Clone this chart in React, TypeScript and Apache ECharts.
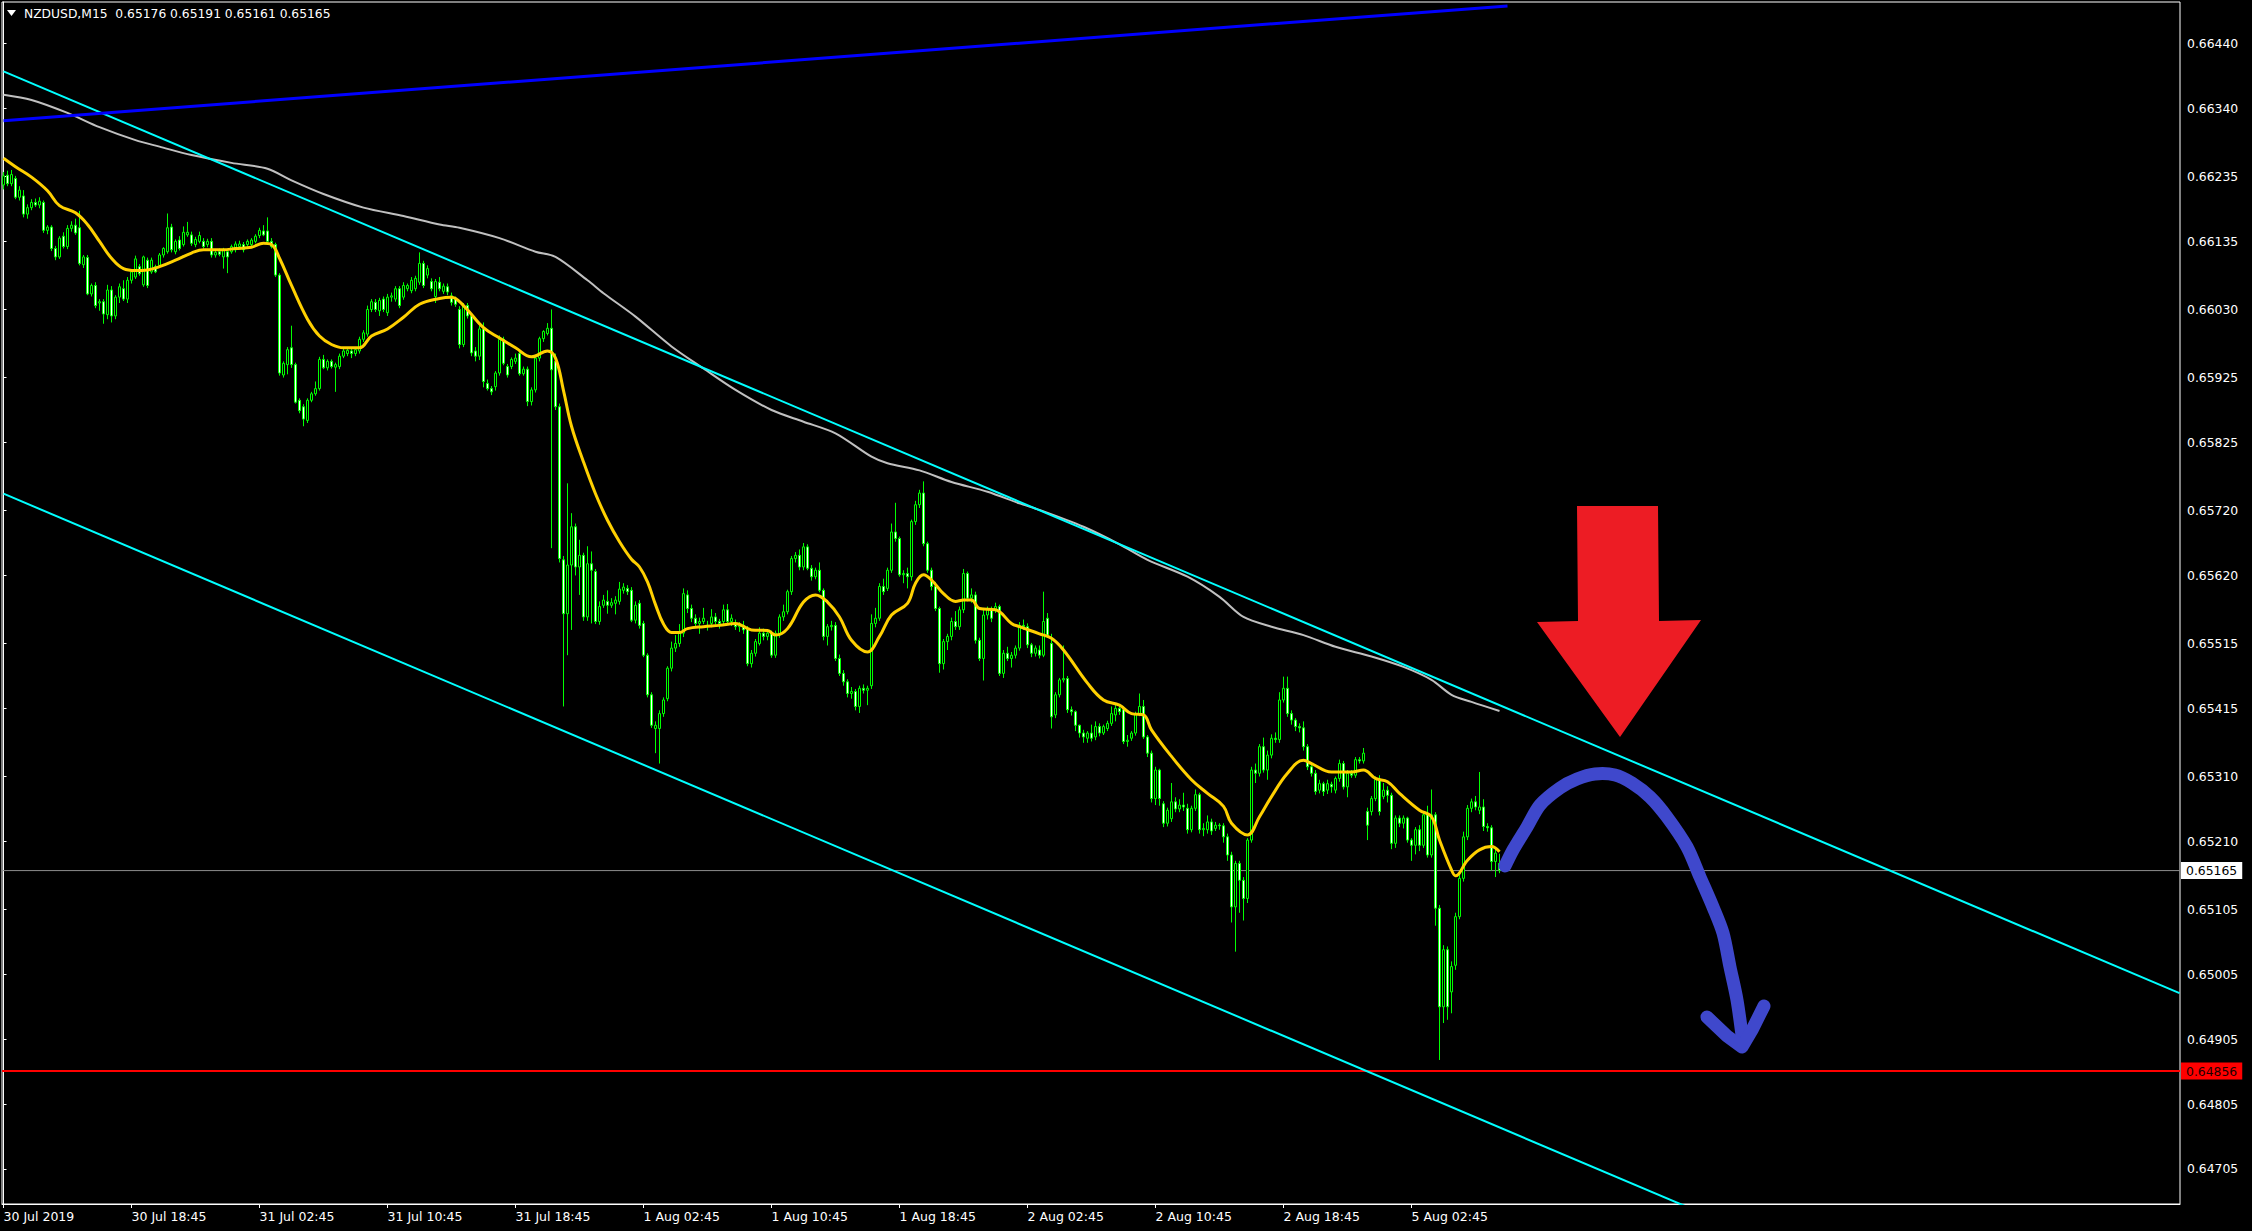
import React, { useEffect, useRef } from 'react';
import * as echarts from 'echarts';

// Prices are stored in points above 0.64000 (1 point = 0.00001)
const BASE = 0.64;
const POINT = 0.00001;

const opens = [
  2222,2237,2224,2232,2203,2205,2177,2187,2195,2191,
  2195,2152,2157,2124,2111,2143,2127,2155,2160,2156,
  2099,2110,2054,2067,2040,2042,2022,2060,2020,2049,
  2062,2046,2075,2080,2096,2068,2106,2088,2096,2098,
  2114,2119,2157,2119,2137,2130,2145,2145,2130,2135,
  2135,2130,2135,2114,2119,2111,2119,2119,2122,2127,
  2130,2130,2130,2135,2144,2151,2151,2135,2130,2083,
  1929,1945,1971,1945,1890,1880,1859,1890,1900,1908,
  1953,1940,1950,1941,1942,1958,1962,1966,1962,1966,
  1984,1992,2030,2041,2028,2046,2025,2049,2046,2062,
  2049,2062,2059,2062,2072,2101,2083,2073,2050,2072,
  2058,2065,2051,2046,2030,1976,2036,2020,1966,1958,
  2000,1916,1908,1911,1932,1984,1942,1942,1950,1962,
  1931,1938,1888,1906,1955,1985,1993,2001,1950,1880,
  1644,1561,1636,1695,1633,1651,1556,1638,1626,1549,
  1574,1580,1574,1577,1580,1597,1600,1597,1551,1577,
  1546,1497,1436,1384,1384,1407,1430,1477,1508,1515,
  1531,1590,1569,1554,1546,1549,1543,1546,1556,1549,
  1549,1567,1549,1546,1541,1543,1538,1484,1500,1515,
  1531,1526,1531,1497,1528,1556,1564,1595,1646,1651,
  1633,1664,1631,1618,1628,1597,1526,1541,1543,1492,
  1469,1456,1438,1441,1418,1446,1443,1450,1546,1554,
  1603,1600,1628,1687,1677,1621,1623,1618,1703,1729,
  1747,1669,1628,1603,1569,1484,1518,1526,1549,1541,
  1567,1623,1585,1590,1520,1492,1559,1567,1567,1572,
  1469,1500,1492,1497,1508,1543,1541,1513,1500,1505,
  1497,1554,1515,1405,1436,1459,1461,1413,1410,1389,
  1377,1369,1377,1371,1387,1377,1384,1392,1405,1415,
  1413,1364,1369,1377,1407,1418,1371,1346,1276,1320,
  1268,1238,1245,1271,1260,1266,1261,1228,1261,1282,
  1228,1228,1240,1230,1235,1234,1217,1189,1109,1176,
  1150,1122,1212,1320,1315,1356,1320,1343,1369,1367,
  1428,1446,1407,1397,1387,1385,1356,1325,1315,1289,
  1299,1289,1298,1289,1307,1330,1294,1315,1312,1336,
  1334,1256,1256,1276,1305,1279,1289,1281,1207,1246,
  1238,1246,1212,1204,1228,1204,1251,1189,1251,1107,
  955,1043,978,1019,1094,1153,1217,1261,1271,1258,
  1263,1233,1231,1179,1176,
];

const highs = [
  2242,2244,2245,2236,2220,2214,2192,2200,2201,2203,
  2198,2160,2160,2128,2143,2149,2160,2166,2170,2182,
  2114,2114,2070,2072,2046,2046,2068,2066,2052,2070,
  2075,2080,2092,2113,2100,2113,2110,2110,2099,2117,
  2126,2178,2162,2138,2143,2158,2165,2150,2142,2150,
  2140,2139,2140,2122,2124,2125,2122,2130,2135,2136,
  2134,2138,2140,2146,2156,2160,2172,2140,2133,2086,
  1950,1972,2005,1948,1893,1884,1893,1903,1919,1957,
  1960,1953,1953,1948,1962,1970,1970,1970,1972,1988,
  1998,2036,2046,2046,2048,2050,2054,2056,2066,2066,
  2072,2070,2080,2082,2118,2105,2098,2078,2077,2080,
  2070,2070,2056,2050,2035,2040,2040,2024,1972,2005,
  2010,1922,1912,1935,1990,1988,1946,1956,1962,1966,
  1942,1942,1910,1958,1988,1998,2009,2030,1962,1885,
  1650,1762,1716,1700,1675,1655,1665,1657,1630,1580,
  1590,1597,1585,1588,1610,1608,1605,1602,1580,1582,
  1550,1500,1440,1395,1412,1432,1480,1518,1528,1545,
  1600,1597,1575,1560,1555,1570,1550,1568,1562,1553,
  1575,1576,1560,1552,1548,1550,1542,1505,1522,1540,
  1538,1535,1535,1535,1560,1575,1598,1650,1656,1660,
  1670,1668,1636,1632,1640,1600,1545,1550,1548,1498,
  1474,1460,1448,1445,1450,1452,1450,1560,1570,1608,
  1615,1632,1700,1732,1680,1628,1632,1706,1735,1752,
  1765,1672,1632,1610,1572,1522,1530,1555,1565,1572,
  1630,1626,1600,1595,1524,1570,1572,1572,1578,1575,
  1505,1510,1502,1512,1548,1552,1546,1516,1512,1512,
  1595,1562,1530,1440,1462,1512,1465,1418,1412,1390,
  1382,1380,1390,1395,1392,1390,1396,1418,1422,1420,
  1418,1374,1380,1410,1438,1428,1374,1350,1325,1322,
  1272,1262,1300,1278,1275,1285,1268,1265,1290,1285,
  1238,1250,1245,1240,1238,1238,1222,1194,1180,1180,
  1155,1215,1325,1330,1360,1370,1350,1375,1378,1440,
  1464,1464,1412,1400,1392,1395,1360,1330,1320,1305,
  1302,1305,1302,1310,1336,1334,1320,1320,1340,1340,
  1354,1262,1280,1310,1312,1300,1295,1285,1250,1250,
  1250,1248,1215,1232,1235,1256,1265,1290,1255,1112,
  1050,1048,1025,1100,1160,1225,1266,1276,1280,1317,
  1275,1238,1235,1200,1191,
];

const lows = [
  2215,2220,2220,2200,2198,2172,2170,2183,2188,2186,
  2148,2146,2120,2106,2108,2124,2123,2150,2145,2098,
  2094,2052,2050,2032,2028,2008,2015,2010,2015,2040,
  2043,2040,2070,2077,2082,2065,2063,2085,2086,2094,
  2110,2116,2118,2115,2121,2127,2142,2128,2126,2132,
  2124,2126,2110,2110,2112,2093,2086,2116,2118,2124,
  2118,2127,2127,2132,2140,2143,2132,2124,2080,1928,
  1925,1930,1940,1885,1870,1850,1855,1887,1897,1905,
  1938,1936,1939,1903,1938,1955,1958,1955,1958,1962,
  1980,1988,2026,2026,2020,2026,2020,2042,2042,2032,
  2045,2058,2055,2058,2068,2063,2078,2058,2040,2058,
  2054,2052,2036,2034,1970,1972,2016,1958,1950,1952,
  1910,1905,1898,1905,1928,1944,1925,1938,1946,1928,
  1928,1881,1882,1902,1950,1980,1990,1662,1875,1640,
  1418,1497,1536,1620,1590,1550,1550,1546,1545,1544,
  1570,1561,1570,1560,1575,1592,1590,1548,1546,1538,
  1494,1432,1385,1346,1330,1402,1426,1472,1502,1510,
  1525,1562,1548,1540,1530,1545,1535,1540,1544,1538,
  1545,1544,1542,1536,1533,1530,1480,1478,1495,1512,
  1520,1520,1493,1493,1524,1550,1560,1590,1640,1628,
  1628,1628,1612,1614,1594,1520,1512,1535,1488,1465,
  1450,1432,1430,1412,1408,1438,1420,1445,1540,1550,
  1590,1596,1624,1672,1618,1608,1600,1612,1698,1724,
  1665,1624,1597,1565,1470,1475,1505,1520,1536,1536,
  1562,1580,1578,1515,1488,1458,1552,1548,1562,1465,
  1462,1488,1478,1492,1504,1536,1508,1494,1495,1492,
  1494,1524,1384,1400,1432,1455,1408,1404,1380,1370,
  1362,1362,1364,1366,1372,1374,1380,1388,1395,1405,
  1360,1356,1365,1373,1403,1368,1340,1270,1266,1265,
  1232,1233,1240,1255,1255,1257,1222,1224,1257,1222,
  1218,1222,1220,1226,1228,1208,1180,1085,1040,1100,
  1088,1115,1208,1300,1310,1316,1305,1338,1362,1362,
  1424,1402,1390,1380,1378,1350,1320,1310,1282,1284,
  1280,1283,1285,1284,1302,1290,1278,1308,1308,1330,
  1330,1212,1250,1272,1250,1275,1270,1198,1200,1232,
  1230,1208,1180,1190,1195,1200,1185,1185,1080,873,
  930,935,945,1012,1090,1148,1212,1255,1258,1252,
  1226,1225,1165,1155,1161,
];

const closes = [
  2236,2224,2238,2203,2214,2177,2187,2195,2191,2197,
  2152,2157,2124,2111,2140,2127,2155,2160,2148,2101,
  2111,2054,2067,2036,2042,2023,2060,2020,2049,2065,
  2046,2075,2088,2108,2085,2111,2067,2106,2088,2114,
  2124,2156,2122,2135,2124,2149,2149,2132,2138,2144,
  2127,2135,2114,2118,2115,2122,2111,2127,2131,2131,
  2122,2135,2137,2143,2152,2145,2135,2127,2083,1932,
  1947,1968,1945,1887,1874,1861,1890,1900,1908,1953,
  1940,1950,1942,1945,1958,1966,1967,1962,1968,1984,
  1994,2030,2042,2030,2044,2030,2049,2051,2062,2036,
  2067,2067,2075,2078,2101,2067,2093,2062,2073,2062,
  2066,2057,2041,2038,1976,2036,2020,1963,1958,2000,
  1919,1908,1903,1932,1984,1947,1929,1953,1955,1931,
  1938,1888,1906,1955,1985,1996,2001,1937,1880,1646,
  1561,1636,1695,1633,1651,1556,1638,1628,1549,1572,
  1582,1574,1578,1582,1599,1602,1595,1551,1574,1543,
  1497,1436,1389,1389,1407,1428,1477,1508,1515,1531,
  1592,1569,1554,1546,1549,1554,1541,1556,1549,1546,
  1567,1549,1554,1541,1543,1536,1484,1500,1518,1531,
  1526,1531,1497,1531,1556,1564,1595,1646,1651,1633,
  1664,1631,1618,1628,1597,1526,1541,1543,1492,1469,
  1456,1438,1441,1418,1446,1443,1446,1546,1554,1603,
  1595,1628,1687,1677,1621,1623,1618,1703,1729,1747,
  1669,1628,1603,1569,1484,1518,1526,1549,1541,1567,
  1623,1585,1590,1520,1492,1559,1567,1554,1572,1469,
  1500,1492,1497,1508,1543,1541,1513,1500,1508,1497,
  1549,1528,1402,1436,1459,1461,1413,1410,1389,1377,
  1371,1377,1369,1387,1377,1387,1392,1407,1415,1410,
  1364,1366,1377,1407,1418,1371,1346,1276,1320,1276,
  1238,1258,1271,1260,1266,1263,1228,1261,1282,1228,
  1230,1240,1226,1235,1234,1217,1189,1109,1176,1150,
  1122,1212,1320,1315,1356,1320,1343,1369,1367,1428,
  1446,1407,1397,1387,1385,1356,1325,1315,1287,1299,
  1287,1299,1294,1307,1330,1294,1315,1312,1336,1334,
  1346,1235,1276,1305,1256,1289,1281,1207,1246,1238,
  1246,1212,1204,1228,1204,1251,1189,1251,1107,955,
  1043,955,1017,1094,1153,1217,1261,1271,1263,1263,
  1233,1231,1179,1192,1165,
];

// Moving averages: [bar index, points]
const yellowMA = [
  [0,2263],[3,2250],[7,2234],[11,2213],[14,2190],[18,2179],[21,2161],[24,2135],[27,2109],[30,2093],
  [33,2090],[36,2091],[39,2096],[43,2106],[47,2117],[50,2122],[55,2122],[58,2124],[62,2126],[65,2132],
  [67,2130],[69,2109],[72,2067],[76,2015],[79,1989],[82,1976],[85,1971],[89,1971],[92,1989],[96,2000],
  [100,2018],[104,2038],[109,2047],[112,2049],[115,2036],[120,2002],[124,1986],[128,1971],[132,1957],[136,1966],
  [138,1955],[140,1905],[142,1850],[145,1795],[148,1746],[151,1705],[154,1672],[157,1645],[159,1633],[161,1610],
  [163,1575],[165,1545],[167,1532],[169,1532],[171,1538],[175,1541],[179,1543],[183,1546],[187,1536],[191,1535],
  [193,1528],[196,1538],[200,1579],[203,1590],[206,1579],[209,1556],[212,1520],[216,1502],[219,1526],[222,1559],
  [226,1577],[228,1608],[230,1621],[232,1613],[235,1592],[238,1580],[240,1582],[242,1582],[244,1569],[248,1567],
  [252,1546],[254,1541],[259,1530],[262,1523],[265,1505],[271,1454],[275,1428],[279,1420],[282,1407],[285,1405],
  [287,1382],[292,1341],[297,1305],[301,1284],[305,1264],[307,1238],[311,1220],[314,1248],[317,1279],[321,1315],
  [325,1335],[327,1330],[332,1317],[337,1317],[340,1320],[343,1307],[346,1302],[349,1284],[354,1258],[357,1248],
  [359,1212],[362,1166],[363,1157],[366,1181],[369,1197],[372,1202],[374,1194],
];

const grayMA = [
  [0,2361],[7,2353],[16,2333],[24,2311],[33,2291],[39,2281],[47,2268],[57,2256],[66,2247],[72,2229],
  [80,2208],[90,2187],[100,2174],[109,2161],[114,2156],[124,2140],[133,2119],[138,2111],[146,2075],[150,2055],
  [158,2019],[167,1973],[175,1939],[183,1906],[192,1875],[200,1857],[208,1839],[217,1803],[221,1793],[229,1782],
  [237,1764],[246,1749],[254,1731],[259,1721],[270,1695],[279,1668],[286,1644],[296,1618],[304,1587],[310,1556],
  [317,1541],[325,1528],[333,1510],[342,1495],[350,1479],[357,1459],[362,1436],[367,1425],[374,1411],
];

// Trend lines: [bar index, price] anchors
const blueTrend = [[0, 0.66321], [376, 0.66498]];
const channelUpper = [[0, 0.66397], [544, 0.64976]];
const channelLower = [[0, 0.65746], [544, 0.64325]];

const bidPrice = 0.65165;
const supportLevel = 0.64856;

const timeLabels = [
  '30 Jul 2019', '30 Jul 18:45', '31 Jul 02:45', '31 Jul 10:45', '31 Jul 18:45', '1 Aug 02:45',
  '1 Aug 10:45', '1 Aug 18:45', '2 Aug 02:45', '2 Aug 10:45', '2 Aug 18:45', '5 Aug 02:45',
];
const timeLabelBars = [0, 32, 64, 96, 128, 160, 192, 224, 256, 288, 320, 352];

const priceTicks = [
  '0.66440', '0.66340', '0.66235', '0.66135', '0.66030', '0.65925', '0.65825', '0.65720', '0.65620',
  '0.65515', '0.65415', '0.65310', '0.65210', '0.65105', '0.65005', '0.64905', '0.64805', '0.64705',
];

const titleText = 'NZDUSD,M15  0.65176 0.65191 0.65161 0.65165';

const FONT = '"DejaVu Sans", Verdana, sans-serif';

const toPrice = (v: number) => +(BASE + v * POINT).toFixed(5);

export default function App() {
  const ref = useRef<HTMLDivElement>(null);

  useEffect(() => {
    if (!ref.current) return;
    const chart = echarts.init(ref.current, null, { renderer: 'svg' });

    const candles = opens.map((o, i) => [i, toPrice(o), toPrice(closes[i]), toPrice(lows[i]), toPrice(highs[i])]);
    const yellow = yellowMA.map(([i, v]) => [i, toPrice(v)]);
    const gray = grayMA.map(([i, v]) => [i, toPrice(v)]);
    const tickValues = priceTicks.map(Number);

    const gridLeft = 2;
    const gridTop = 2;
    const gridRight = 72;
    const gridBottom = 27;
    const plotW = 2252 - gridLeft - gridRight;
    const xMin = -0.375;
    const xMax = xMin + plotW / 4;
    const pTop = 0.66504;
    const pBottom = 0.64651;

    const trendSeries = (data: number[][], color: string, width: number) => ({
      type: 'line',
      data,
      symbol: 'none',
      silent: true,
      clip: true,
      lineStyle: { color, width },
      z: 4,
    });

    const levelSeries = (price: number, lineColor: string, width: number, boxColor: string, textColor: string) => ({
      type: 'line',
      data: [[xMin, price], [xMax, price]],
      symbol: 'none',
      silent: true,
      clip: false,
      lineStyle: { color: lineColor, width },
      z: 1,
      endLabel: {
        show: true,
        formatter: () => price.toFixed(5),
        distance: 1,
        backgroundColor: boxColor,
        color: textColor,
        fontFamily: FONT,
        fontSize: 12.4,
        padding: [3, 5, 2, 5],
      },
    });

    chart.setOption({
      animation: false,
      backgroundColor: '#000000',
      grid: {
        left: gridLeft,
        top: gridTop,
        right: gridRight,
        bottom: gridBottom,
        show: true,
        borderColor: '#ffffff',
        borderWidth: 1,
        backgroundColor: '#000000',
      },
      xAxis: {
        type: 'value',
        min: xMin,
        max: xMax,
        splitLine: { show: false },
        axisLine: { show: true, lineStyle: { color: '#ffffff', width: 1 } },
        axisTick: { show: true, customValues: timeLabelBars, length: 4, lineStyle: { color: '#ffffff' } },
        axisLabel: {
          customValues: timeLabelBars,
          formatter: (v: number) => {
            const k = timeLabelBars.indexOf(Math.round(v));
            return k >= 0 ? timeLabels[k] : '';
          },
          color: '#ffffff',
          fontFamily: FONT,
          fontSize: 12.5,
          align: 'left',
          margin: 6,
        },
      },
      yAxis: {
        type: 'value',
        position: 'right',
        min: pBottom,
        max: pTop,
        splitLine: { show: false },
        axisLine: { show: true, lineStyle: { color: '#ffffff', width: 1 } },
        axisTick: { show: true, customValues: tickValues, length: 3, lineStyle: { color: '#ffffff' } },
        axisLabel: {
          customValues: tickValues,
          formatter: (v: number) => v.toFixed(5),
          color: '#ffffff',
          fontFamily: FONT,
          fontSize: 12.4,
          margin: 7,
        },
      },
      series: [
        levelSeries(bidPrice, '#8e8e8e', 1, '#ffffff', '#000000'),
        levelSeries(supportLevel, '#ff0000', 2, '#ff0000', '#1a0000'),
        {
          type: 'candlestick',
          data: candles,
          encode: { x: 0, y: [1, 2, 3, 4] },
          barWidth: 2,
          silent: true,
          itemStyle: {
            color: '#000000',
            color0: '#ffffff',
            borderColor: '#00ff00',
            borderColor0: '#00ff00',
            borderWidth: 1,
          },
          z: 2,
        },
        {
          type: 'line',
          data: gray,
          symbol: 'none',
          smooth: 0.3,
          silent: true,
          lineStyle: { color: '#c0c0c0', width: 2 },
          z: 3,
        },
        {
          type: 'line',
          data: yellow,
          symbol: 'none',
          smooth: 0.4,
          silent: true,
          lineStyle: { color: '#ffd000', width: 3 },
          z: 3,
        },
        trendSeries(channelUpper, '#00ffff', 2),
        trendSeries(channelLower, '#00ffff', 2),
        trendSeries(blueTrend, '#0000ff', 3),
      ],
      graphic: [
        {
          type: 'polygon',
          shape: { points: [[7, 10], [16, 10], [11.5, 16]] },
          style: { fill: '#ffffff' },
          z: 50,
        },
        {
          type: 'text',
          x: 24,
          y: 14,
          style: {
            text: titleText,
            fill: '#ffffff',
            font: `12.3px ${FONT}`,
            verticalAlign: 'middle',
          },
          z: 50,
        },
        {
          type: 'polygon',
          shape: {
            points: [[1577, 506], [1658, 506], [1659, 621], [1701, 620], [1620, 737], [1537, 622], [1578, 621]],
          },
          style: { fill: '#ed1c24' },
          z: 60,
        },
        {
          type: 'polyline',
          shape: {
            points: [
              [1505, 866], [1513, 850], [1527, 827], [1540, 805], [1560, 788], [1577, 779], [1595, 774],
              [1615, 775], [1632, 783], [1650, 797], [1667, 817], [1687, 847], [1700, 877], [1713, 907],
              [1723, 933], [1730, 967], [1737, 1000], [1743, 1043],
            ],
            smooth: 0.3,
          },
          style: { stroke: '#3f48cc', lineWidth: 13, lineCap: 'round', lineJoin: 'round', fill: 'none' },
          z: 60,
        },
        {
          type: 'polyline',
          shape: { points: [[1707, 1017], [1727, 1036], [1742, 1047], [1752, 1030], [1764, 1006]] },
          style: { stroke: '#3f48cc', lineWidth: 13, lineCap: 'round', lineJoin: 'round', fill: 'none' },
          z: 60,
        },
      ],
    });

    return () => chart.dispose();
  }, []);

  return (
    <div
      ref={ref}
      style={{ position: 'fixed', left: 0, top: 0, width: 2252, height: 1231, background: '#000000' }}
    />
  );
}
